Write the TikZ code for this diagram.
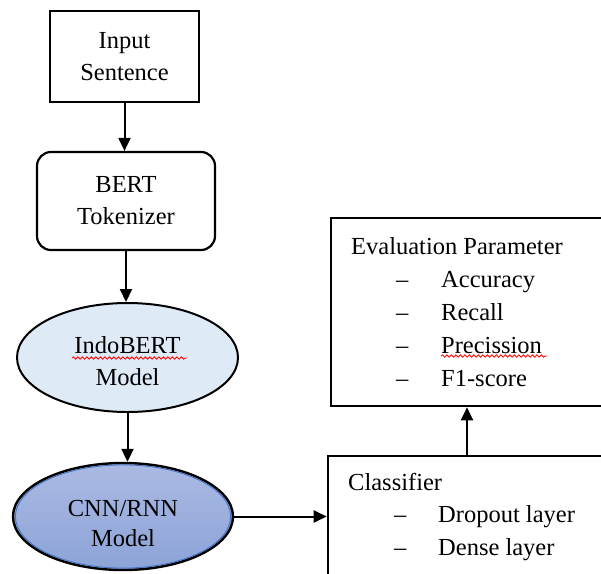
\documentclass[tikz,border=0pt]{standalone}
\usepackage{fontspec}
\setmainfont{Liberation Serif}
\usetikzlibrary{arrows.meta,shapes.geometric,decorations.pathmorphing}
\definecolor{lightblue}{HTML}{DEEAF6}
\definecolor{shadetop}{HTML}{ABBAE3}
\definecolor{shadebot}{HTML}{8CA3D7}
\definecolor{rimblue}{HTML}{4472C4}
\begin{document}
\begin{tikzpicture}[x=1pt,y=-1pt,
  every node/.style={font=\fontsize{24.5}{32}\selectfont, inner sep=0pt},
  arr/.style={line width=2pt,-{Triangle[length=13pt,width=12pt]}},
  box/.style={draw, line width=2.6pt, align=center},
  listtext/.style={anchor=base west},
  squiggle/.style={red, line width=0.8pt, decorate,
    decoration={snake, amplitude=1.2pt, segment length=4.5pt}}
]
\useasboundingbox (0,0) rectangle (601,573);
\clip (0,0) rectangle (601,573);

% pipeline on the left
\node[box, minimum width=149pt, minimum height=91pt] (inp) at (124.5,56.5) {Input\\Sentence};
\node[box, line width=2.2pt, rounded corners=14pt, minimum width=178pt, minimum height=98pt] (bert) at (126,201) {BERT\\Tokenizer};
\node[ellipse, draw, line width=2pt, fill=lightblue,
      minimum width=221pt, minimum height=109pt] (indo) at (127.5,357.5) {};
\node[align=center] (indotext) at (127.5,361) {IndoBERT\\Model};
\node[ellipse, draw, line width=2.4pt, top color=shadetop, bottom color=shadebot,
      minimum width=220pt, minimum height=107pt] (cnn) at (123,516.5) {};
\draw[rimblue, line width=0.9pt] (cnn.center) ellipse (107.6 and 51.6);
\node[align=center] (cnntext) at (123,523) {CNN/RNN\\[-2pt]Model};

% boxes on the right
\node[box, minimum width=284pt, minimum height=188pt] (eval) at (473,312) {};
\node[box, minimum width=287pt, minimum height=134pt] (clf) at (471.5,523) {};

% evaluation parameters
\node[listtext] (evtitle) at (351,254) {Evaluation Parameter};
\foreach \t [count=\i] in {Accuracy, Recall, Precission, F1-score} {
  \node[listtext] (evdash\i) at (396,254+33*\i) {–};
  \node[listtext] (evitem\i) at (441,254+33*\i) {\t};
}

% classifier layers
\node[listtext] (clftitle) at (348,490) {Classifier};
\foreach \t [count=\i] in {Dropout layer, Dense layer} {
  \node[listtext] (clfdash\i) at (394,490+32.5*\i) {–};
  \node[listtext] (clfitem\i) at (438,490+32.5*\i) {\t};
}

% spell-check underlines
\draw[squiggle] (72,358) -- (187,358);
\draw[squiggle] (441,356) -- (547,356);

% connectors
\coordinate (upx) at (467,0);
\draw[arr] (inp.south) -- (inp.south |- bert.north);
\draw[arr] (bert.south) -- (bert.south |- indo.north);
\draw[arr] (indo.south) -- (indo.south |- cnn.north);
\draw[arr] (cnn.east) -- (cnn.east -| clf.west);
\draw[arr] (clf.north -| upx) -- (eval.south -| upx);
\end{tikzpicture}
\end{document}
